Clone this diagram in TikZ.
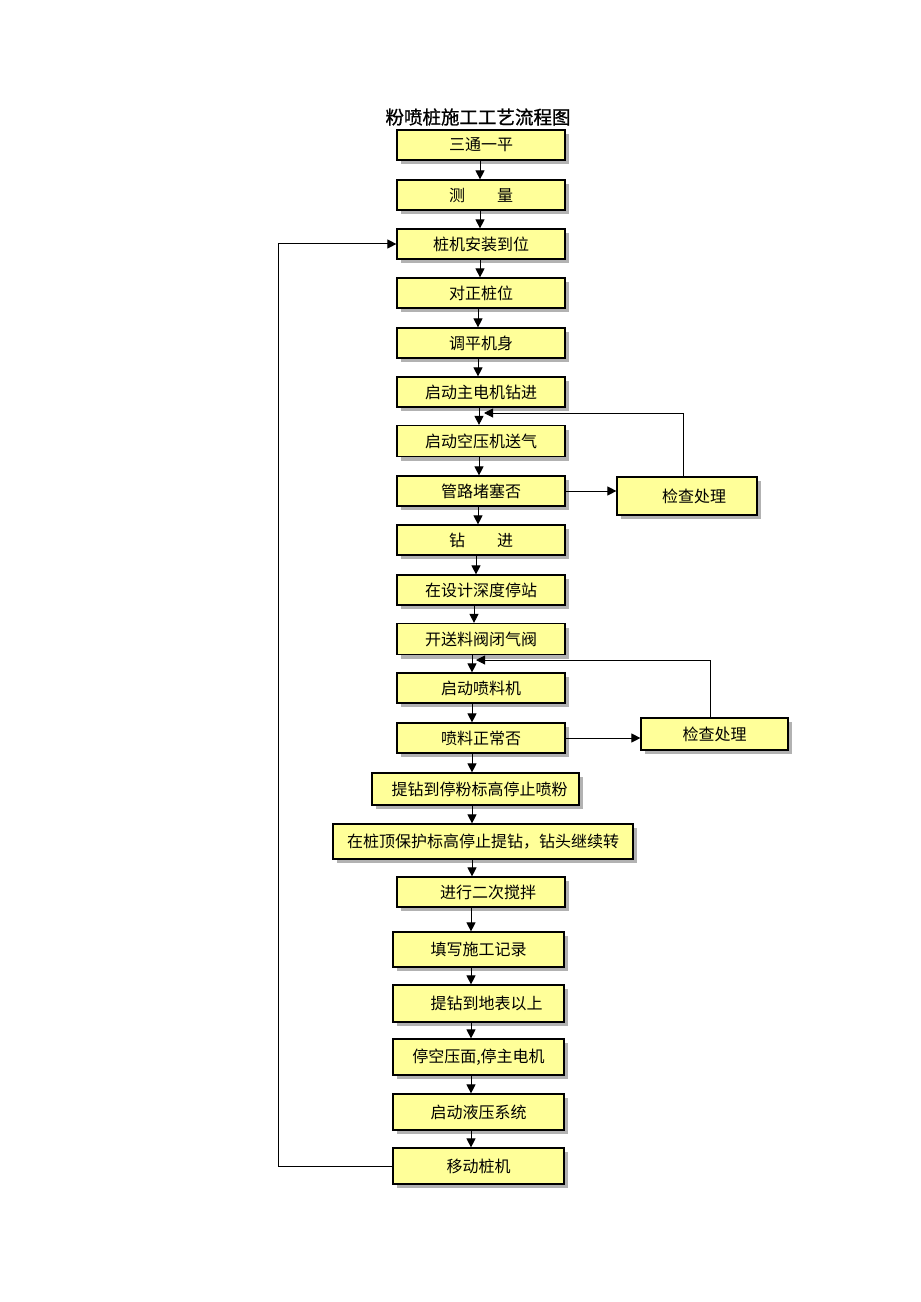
\documentclass[tikz,border=0pt]{standalone}
\usepackage{fontspec}
\setmainfont{Noto Sans CJK SC}
\newfontfamily\titlefont[FakeBold=1]{Noto Sans CJK SC}
\usetikzlibrary{arrows.meta,shadows}
\definecolor{boxfill}{HTML}{FFFF99}
\begin{document}
\begin{tikzpicture}[x=1bp,y=-1bp,
  box/.style={draw=black, line width=1.2bp, fill=boxfill, inner sep=0pt,
    font=\fontsize{16bp}{18bp}\selectfont,
    drop shadow={shadow xshift=4bp, shadow yshift=-4bp, fill=gray!60, opacity=1}},
  arr/.style={line width=1bp, -{Triangle[length=9bp,width=9bp]}},
  ttl/.style={font=\titlefont\fontsize{18.5bp}{20bp}\selectfont, inner sep=0pt}]
\useasboundingbox[fill=white] (0,0) rectangle (920,1302);
\node[ttl] (title) at (478,117) {粉喷桩施工工艺流程图};
\node[box, minimum width=168bp, minimum height=30bp] (n1) at (481,145) {三通一平\hspace{0.9em}};
\node[box, minimum width=168bp, minimum height=30bp] (n2) at (481,195) {测\hspace{2em}量\hspace{1.1em}};
\node[box, minimum width=168bp, minimum height=30bp] (n3) at (481,244) {桩机安装到位};
\node[box, minimum width=168bp, minimum height=30bp] (n4) at (481,293) {对正桩位};
\node[box, minimum width=168bp, minimum height=30bp] (n5) at (481,343) {调平机身};
\node[box, minimum width=168bp, minimum height=30bp] (n6) at (481,392) {启动主电机钻进};
\node[box, minimum width=168bp, minimum height=31bp] (n7) at (481,441) {启动空压机送气};
\node[box, minimum width=168bp, minimum height=30bp] (n8) at (481,491) {管路堵塞否};
\node[box, minimum width=168bp, minimum height=30bp] (n9) at (481,540) {钻\hspace{2em}进};
\node[box, minimum width=168bp, minimum height=30bp] (n10) at (481,590) {在设计深度停站};
\node[box, minimum width=168bp, minimum height=31bp] (n11) at (481,639) {开送料阀闭气阀};
\node[box, minimum width=168bp, minimum height=30bp] (n12) at (481,688) {启动喷料机};
\node[box, minimum width=168bp, minimum height=30bp] (n13) at (481,738) {喷料正常否};
\node[box, minimum width=207bp, minimum height=32bp] (n14) at (475.5,789) {\hspace{0.5em}提钻到停粉标高停止喷粉};
\node[box, minimum width=300bp, minimum height=35bp] (n15) at (483,841.5) {在桩顶保护标高停止提钻，钻头继续转};
\node[box, minimum width=168bp, minimum height=30bp] (n16) at (481,892) {\hspace{0.9em}进行二次搅拌};
\node[box, minimum width=171bp, minimum height=35bp] (n17) at (478.5,949.5) {填写施工记录};
\node[box, minimum width=171bp, minimum height=37bp] (n18) at (478.5,1003.5) {\hspace{1em}提钻到地表以上};
\node[box, minimum width=171bp, minimum height=36bp] (n19) at (478.5,1057) {停空压面,停主电机};
\node[box, minimum width=171bp, minimum height=36bp] (n20) at (478.5,1112) {启动液压系统};
\node[box, minimum width=171bp, minimum height=36bp] (n21) at (478.5,1166) {移动桩机};
\node[box, minimum width=140bp, minimum height=38bp] (c1) at (687,496) {\hspace{0.9em}检查处理};
\node[box, minimum width=147bp, minimum height=32bp] (c2) at (714.5,734) {检查处理};
\foreach \a/\b/\x in {n1/n2/480, n2/n3/480, n3/n4/480, n4/n5/478, n5/n6/478,
  n6/n7/479, n7/n8/479, n8/n9/478, n9/n10/476, n10/n11/474, n11/n12/472,
  n12/n13/472, n13/n14/472, n14/n15/472, n15/n16/472, n16/n17/471,
  n17/n18/471, n18/n19/471, n19/n20/471, n20/n21/471}
  \draw[arr] (\a.south -| \x,0) -- (\b.north -| \x,0);
\coordinate (j1) at (484,413);
\coordinate (j2) at (476,660);
\coordinate (lft) at (278,0);
\draw[arr] (n8.east) -- (c1.west |- n8.east);
\draw[arr] (c1.north -| 683,0) |- (j1);
\draw[arr] (n13.east) -- (c2.west |- n13.east);
\draw[arr] (c2.north -| 710,0) |- (j2);
\draw[arr] (n21.west) -- (n21.west -| lft) -- (n3.west -| lft) -- (n3.west);
\end{tikzpicture}
\end{document}
